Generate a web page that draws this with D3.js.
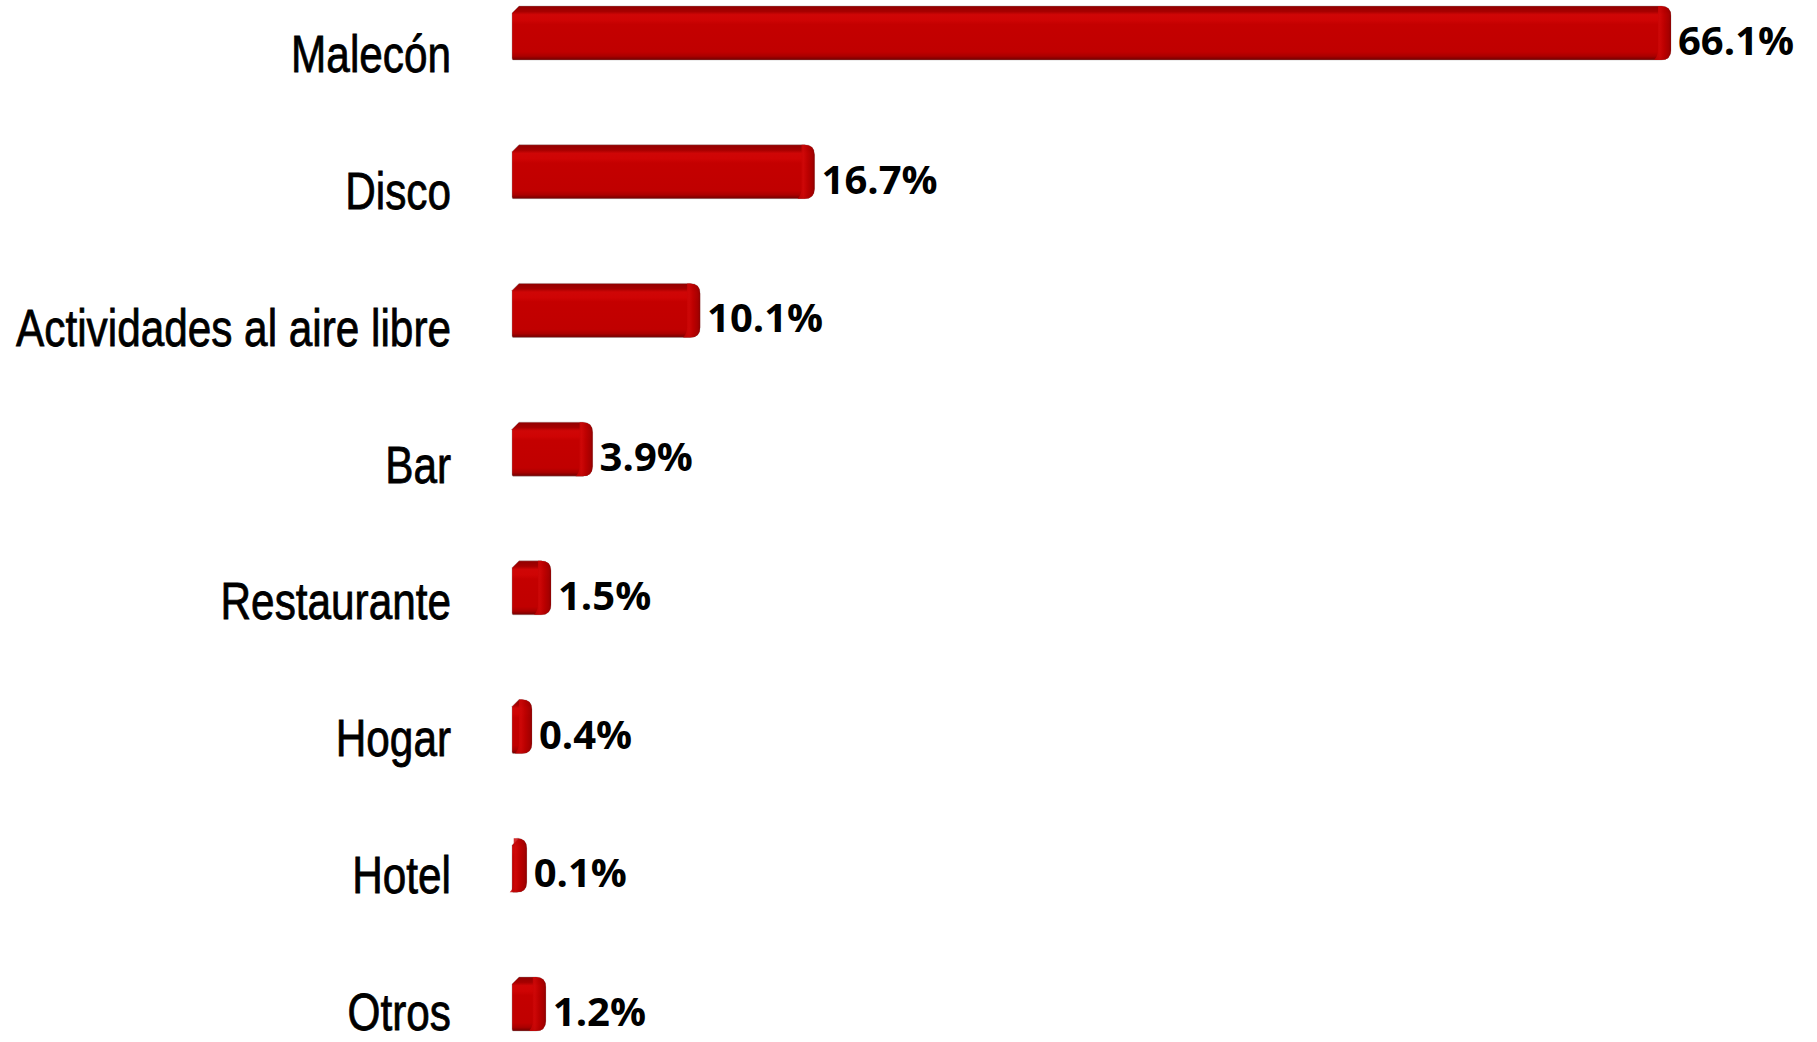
<!DOCTYPE html>
<html><head><meta charset="utf-8">
<script src="https://d3js.org/d3.v7.min.js"></script>
<style>html,body{margin:0;padding:0;background:#fff;}svg{display:block;}</style>
</head><body>
<script>
const categories = ["Malecón","Disco","Actividades al aire libre","Bar","Restaurante","Hogar","Hotel","Otros"];
const values = [66.1,16.7,10.1,3.9,1.5,0.4,0.1,1.2];
const valueLabels = ["66.1%","16.7%","10.1%","3.9%","1.5%","0.4%","0.1%","1.2%"];

const W = 1817, H = 1042;
const svg = d3.select("body").append("svg").attr("width",W).attr("height",H);
const defs = svg.append("defs");

const vg = defs.append("linearGradient").attr("id","gv").attr("x1",0).attr("y1",0).attr("x2",0).attr("y2",1);
[[0,"#900000"],[0.1,"#a60000"],[0.16,"#cf0606"],[0.26,"#cf0404"],[0.34,"#c40000"],[0.85,"#c00000"],[0.93,"#aa0000"],[1,"#700000"]]
  .forEach(([o,c])=>vg.append("stop").attr("offset",o).attr("stop-color",c));
const hg = defs.append("linearGradient").attr("id","gh").attr("x1",0).attr("y1",0).attr("x2",1).attr("y2",0);
[[0,"#c00000"],[0.35,"#cf0808"],[0.6,"#bb0000"],[0.88,"#a00000"],[1,"#800000"]]
  .forEach(([o,c])=>hg.append("stop").attr("offset",o).attr("stop-color",c));

const x0 = 512, depth = 13;
const x = d3.scaleLinear().domain([0,66.1]).range([x0, x0 + 1146]);
const y = d3.scalePoint().domain(categories).range([33, 1004]);
const yLab = d3.scalePoint().domain(categories).range([72, 1030]);
const bh = 54;

function barPath(xs, xe, yc){
  const t = yc - bh/2, b = yc + bh/2, r = 10;
  return `M${xs},${t+7} L${xs+7},${t} L${xe-r},${t} Q${xe},${t} ${xe},${t+r} L${xe},${b-r} Q${xe},${b} ${xe-r},${b} L${xs+1},${b} Q${xs},${b} ${xs},${b-2} Z`;
}
function capPath(xe, yc){
  const t = yc - bh/2, b = yc + bh/2, r = 10, xs = xe - depth;
  return `M${xs},${t} L${xe-r},${t} Q${xe},${t} ${xe},${t+r} L${xe},${b-r} Q${xe},${b} ${xe-r},${b} L${xs-4},${b} Q${xs},${b-4} ${xs},${b-10} Z`;
}

const g = svg.append("g");
categories.forEach((c,i)=>{
  const yc = y(c), xe = x(values[i]) + depth;
  g.append("path").attr("d",barPath(x0, xe, yc)).attr("fill","url(#gv)")
    .attr("stroke","#9a9a9a").attr("stroke-width",0.6).attr("stroke-opacity",0.6);
  g.append("path").attr("d",capPath(xe, yc)).attr("fill","url(#gh)").attr("opacity",0.85);
  g.append("text").attr("x", xe + 7).attr("y", yc + 22)
    .attr("font-family","'Open Sans', sans-serif").attr("font-weight",700).attr("font-size",40)
    .attr("fill","#000").text(valueLabels[i]);
});

const labels = svg.append("g");
const lt = labels.selectAll("text").data(categories).join("text")
  .attr("text-anchor","end")
  .attr("font-family","'Liberation Sans Narrow','Arial Narrow','Liberation Sans',sans-serif")
  .attr("font-size",52).attr("fill","#000").attr("stroke","#000").attr("stroke-width",0.8)
  .attr("transform", d=>`translate(451,${yLab(d)})`)
  .text(d=>d);
let maxW = 0; lt.each(function(){ maxW = Math.max(maxW, this.getComputedTextLength()); });
const sx = 435 / maxW;
lt.attr("transform", d=>`translate(451,${yLab(d)}) scale(${sx},1)`);
</script>
</body></html>
